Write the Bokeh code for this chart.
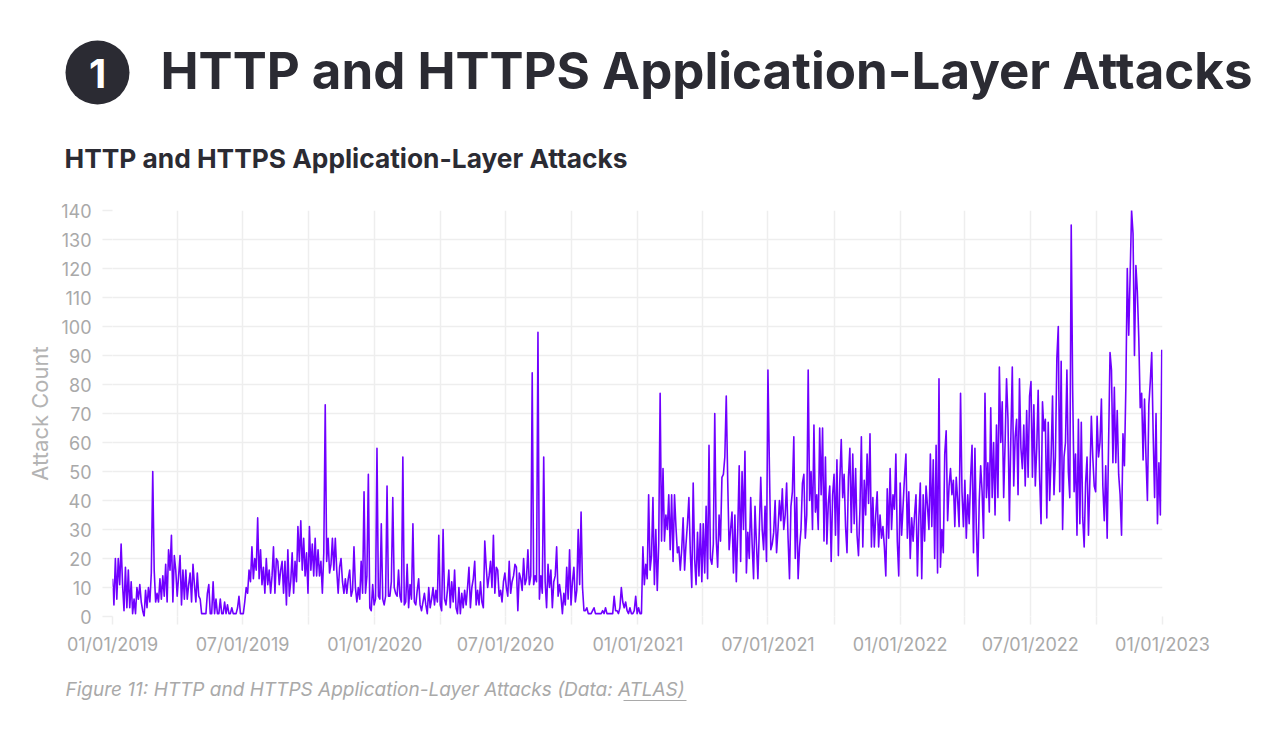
import pandas as pd
from bokeh.plotting import figure
from bokeh.models import Range1d, FixedTicker, SingleIntervalTicker, DatetimeTickFormatter
from bokeh.core.properties import value
from bokeh.embed import file_html
from bokeh.resources import INLINE

# ---------------- data (one value every 2 days) ----------------
start_date = "2019-01-01"
step_days = 2
counts_2019_h1 = [
    13, 4, 20, 6, 20, 11, 25, 11, 2, 17,
    3, 16, 3, 12, 1, 6, 1, 10, 6, 11,
    5, 2, 0, 9, 3, 10, 5, 15, 50, 16,
    5, 8, 5, 13, 6, 14, 7, 18, 5, 23,
    16, 28, 5, 21, 16, 7, 14, 21, 4, 16,
    6, 16, 6, 11, 15, 5, 18, 11, 5, 15,
    7, 6, 1, 1, 1, 1, 8, 11, 1, 1,
    12, 1, 6, 1, 1, 6, 1, 1, 5, 1,
    4, 1, 1, 3, 1, 1, 1, 3, 7, 1,
    1, 1, 5, 10, 8, 16, 12, 24, 13, 20,
    16, 34, 13, 23, 11, 17, 8, 20, 11, 16,
    8, 14, 24, 8, 20, 19, 11, 16, 19, 8,
    19, 4, 23, 7, 12, 22, 8, 19,
]
counts_2019_h2 = [
    12, 31, 19, 33, 16, 27, 14, 22, 8, 31,
    16, 25, 14, 27, 14, 23, 14, 19, 8, 22,
    73, 19, 27, 15, 18, 27, 16, 27, 16, 8,
    17, 20, 12, 8, 13, 8, 13, 16, 7, 9,
    24, 10, 5, 10, 6, 19, 8, 43, 8, 14,
    49, 3, 2, 11, 4, 6, 58, 7, 6, 32,
    6, 4, 7, 45, 7, 7, 12, 41, 10, 8,
    7, 16, 7, 5, 55, 4, 5, 18, 3, 11,
    6, 32, 5, 4, 9, 13, 4, 2, 5, 8,
    4, 1, 10, 3, 6, 10, 4, 9, 5, 28,
    4, 2, 30, 6, 4, 9, 16, 3, 12, 5,
    16, 3, 1, 10, 1, 8, 3, 9, 4, 10,
    17, 3, 10, 13, 19, 4, 9, 4,
]
counts_2020 = [
    12, 5, 3, 26, 17, 10, 14, 19, 10, 28,
    8, 17, 16, 7, 9, 5, 12, 15, 10, 7,
    19, 8, 12, 14, 18, 17, 2, 15, 13, 9,
    20, 11, 13, 23, 11, 14, 84, 11, 14, 12,
    98, 6, 14, 8, 55, 12, 3, 18, 10, 16,
    3, 12, 14, 24, 7, 11, 7, 1, 8, 4,
    17, 6, 23, 4, 12, 17, 5, 9, 30, 11,
    36, 10, 2, 2, 3, 1, 1, 1, 2, 3,
    1, 1, 1, 1, 1, 2, 1, 3, 1, 1,
    1, 1, 1, 7, 2, 2, 1, 3, 10, 5,
    3, 5, 2, 1, 3, 1, 1, 2, 7, 1,
    3, 1, 1, 24, 11, 18, 13, 42, 16, 21,
    41, 11, 30, 9, 25, 77,
]
counts_2021_h1 = [
    26, 51, 26, 35, 30, 42, 23, 42, 19, 42,
    31, 22, 24, 16, 23, 34, 16, 25, 32, 41,
    22, 10, 46, 20, 11, 29, 14, 32, 12, 32,
    15, 38, 13, 59, 20, 18, 25, 70, 27, 17,
    35, 26, 48, 49, 55, 76, 47, 23, 30, 36,
    15, 35, 12, 30, 52, 19, 50, 30, 57, 15,
    29, 20, 41, 25, 13, 38, 25, 13, 30, 48,
    30, 23, 38, 19, 85, 52, 23, 25, 29, 40,
    22, 30, 40, 33, 44, 30, 35, 46, 27, 13,
    38, 43, 62, 20, 41, 13, 24, 30, 46, 49,
    27, 35, 85, 40, 50, 30, 66, 36, 42, 30,
    65, 42,
]
counts_2021_h2 = [
    65, 26, 55, 25, 39, 45, 19, 42, 49, 28,
    54, 21, 47, 61, 41, 49, 31, 22, 48, 58,
    29, 56, 32, 51, 28, 21, 37, 62, 24, 47,
    35, 56, 39, 63, 24, 41, 24, 35, 43, 24,
    35, 27, 31, 24, 14, 44, 27, 51, 30, 42,
    37, 56, 26, 14, 46, 28, 38, 48, 56, 27,
    43, 20, 34, 26, 35, 42, 14, 34, 46, 13,
    42, 26, 45, 38, 30, 56, 31, 54, 20, 59,
    15, 82, 17, 30, 22, 56, 64, 33, 45, 51,
    42, 47, 31, 48, 40, 31, 77, 43, 31, 47,
    27, 42, 32, 48, 59, 22, 58, 30, 14, 40,
]
counts_2022 = [
    52, 43, 27, 77, 41, 53, 36, 72, 41, 60,
    35, 66, 41, 86, 60, 74, 41, 60, 82, 68,
    33, 62, 86, 45, 62, 68, 42, 82, 58, 51,
    66, 45, 71, 48, 76, 81, 48, 73, 45, 58,
    78, 48, 32, 74, 64, 68, 34, 67, 40, 55,
    76, 42, 55, 89, 100, 43, 88, 30, 55, 60,
    85, 50, 41, 135, 78, 43, 56, 28, 68, 32,
    67, 34, 24, 46, 55, 28, 48, 69, 55, 45,
    43, 69, 55, 60, 75, 45, 33, 52, 27, 60,
    91, 85, 53, 79, 53, 71, 49, 42, 28, 63,
    52, 79, 120, 97, 118, 140, 132, 90, 121, 112,
    96, 72, 77, 54, 75, 55, 40, 73, 81, 91,
    63, 41, 70, 32, 53, 35, 92,
]
attack_counts = (counts_2019_h1 + counts_2019_h2 + counts_2020 +
                 counts_2021_h1 + counts_2021_h2 + counts_2022)

major_tick_dates = ["2019-01-01", "2019-07-01", "2020-01-01", "2020-07-01", "2021-01-01",
                    "2021-07-01", "2022-01-01", "2022-07-01", "2023-01-01"]
minor_tick_dates = ["2019-04-01", "2019-10-01", "2020-04-01", "2020-10-01",
                    "2021-04-01", "2021-10-01", "2022-04-01", "2022-10-01"]
y_interval = 10
y_max = 140

heading_number = "1"
heading_text = "HTTP and HTTPS Application-Layer Attacks"
chart_title = "HTTP and HTTPS Application-Layer Attacks"
y_label = "Attack Count"
caption_text = "Figure 11: HTTP and HTTPS Application-Layer Attacks (Data: ATLAS)"

# ---------------- styles ----------------
DARK = "#2b2b33"
GRAY = "#a9a9a9"
GRID = "#eeeeee"
LINE = "#7000ff"
FONT = value("Inter")
W = 1280
H_HEAD = 190
H_MAIN = 478
H_FOOT = 60


def ms(d):
    return pd.Timestamp(d).value / 1e6


def blank(height, y0):
    f = figure(width=W, height=height, x_range=Range1d(0, W), y_range=Range1d(y0 + height, y0),
               output_backend="svg", toolbar_location=None, min_border=0,
               x_axis_location=None, y_axis_location=None)
    f.grid.visible = False
    f.outline_line_color = None
    return f


dates = pd.date_range(start_date, periods=len(attack_counts), freq=f"{step_days}D")

# ---------------- header (page pixel coordinates) ----------------
header = blank(H_HEAD, 0)
header.scatter(x=[97], y=[72], size=64, marker="circle", fill_color=DARK, line_color=None)
header.text(x=[97], y=[73], text=[heading_number], text_font=FONT, text_font_size=value("40px"),
            text_font_style="bold", text_color="white", text_align="center", text_baseline="middle")
header.text(x=[160], y=[70], text=[heading_text], text_font=FONT, text_font_size=value("51px"),
            text_font_style="bold", text_color=DARK, text_align="left", text_baseline="alphabetic")
header.text(x=[64], y=[158], text=[chart_title], text_font=FONT, text_font_size=value("26.3px"),
            text_font_style="bold", text_color=DARK, text_align="left", text_baseline="alphabetic")

# ---------------- main chart ----------------
p = figure(width=W, height=H_MAIN, x_axis_type="datetime",
           x_range=Range1d(ms(major_tick_dates[0]), ms(major_tick_dates[-1])),
           y_range=Range1d(0, y_max),
           output_backend="svg", toolbar_location=None,
           min_border_left=112, min_border_right=W - 1162, min_border_top=20, min_border_bottom=52)
p.outline_line_color = None

p.line(x=dates, y=attack_counts, line_color=LINE, line_width=1.6, line_join="round")

fmt = "%m/%d/%Y"
p.xaxis.ticker = FixedTicker(ticks=[ms(d) for d in major_tick_dates],
                             minor_ticks=[ms(d) for d in minor_tick_dates])
p.xaxis.formatter = DatetimeTickFormatter(microseconds=fmt, milliseconds=fmt, seconds=fmt,
                                          minsec=fmt, minutes=fmt, hourmin=fmt, hours=fmt,
                                          days=fmt, months=fmt, years=fmt)
p.yaxis.ticker = SingleIntervalTicker(interval=y_interval, num_minor_ticks=0)

for ax in (p.xaxis[0], p.yaxis[0]):
    ax.axis_line_color = None
    ax.major_tick_line_color = GRID
    ax.major_tick_line_width = 1.5
    ax.major_tick_in = 0
    ax.major_label_text_font = "Inter"
    ax.major_label_text_font_size = "18px"
    ax.major_label_text_color = GRAY

p.xaxis.major_tick_out = 8
p.xaxis.minor_tick_out = 8
p.xaxis.minor_tick_in = 0
p.xaxis.minor_tick_line_color = GRID
p.xaxis.minor_tick_line_width = 1.5
p.xaxis.major_label_standoff = 9

p.yaxis.major_tick_out = 10
p.yaxis.minor_tick_line_color = None
p.yaxis.major_label_standoff = 11
p.yaxis.axis_label = y_label
p.yaxis.axis_label_text_font = "Inter"
p.yaxis.axis_label_text_font_size = "22px"
p.yaxis.axis_label_text_font_style = "normal"
p.yaxis.axis_label_text_color = "#b3b3b3"
p.yaxis.axis_label_standoff = 5

p.xgrid.grid_line_color = GRID
p.xgrid.grid_line_width = 1.5
p.xgrid.minor_grid_line_color = GRID
p.xgrid.minor_grid_line_width = 1.5
p.ygrid.grid_line_color = GRID
p.ygrid.grid_line_width = 1.5

# ---------------- footer caption (page pixel coordinates) ----------------
footer = blank(H_FOOT, H_HEAD + H_MAIN)
footer.text(x=[65], y=[689], text=[caption_text], text_font=FONT, text_font_size=value("19px"),
            text_font_style="italic", text_color=GRAY, text_align="left", text_baseline="alphabetic")
footer.segment(x0=[623], y0=[700], x1=[686], y1=[700], line_color=GRAY, line_width=1)

open("out.html", "w").write(file_html([header, p, footer], INLINE))
